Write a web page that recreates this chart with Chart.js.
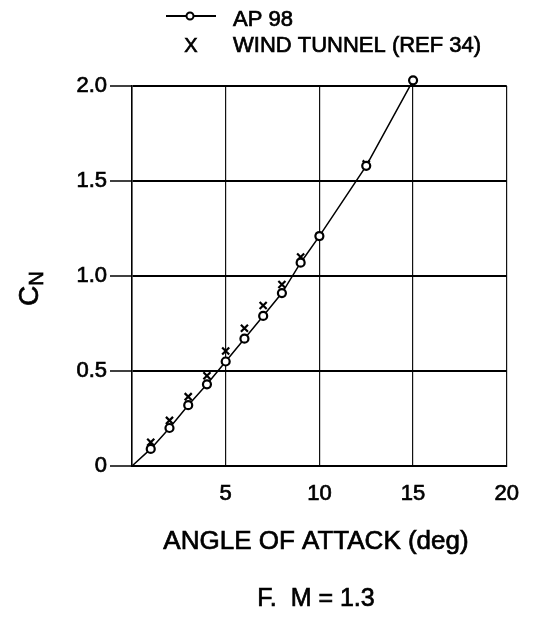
<!DOCTYPE html>
<html>
<head>
<meta charset="utf-8">
<script src="https://cdn.jsdelivr.net/npm/chart.js@4"></script>
<style>
  html, body { margin: 0; padding: 0; background: #fff; }
  #wrap { width: 534px; height: 617px; }
</style>
</head>
<body>
<div id="wrap"><canvas id="cn-chart" width="534" height="617"></canvas></div>
<script>
'use strict';

// angle of attack (deg) and normal force coefficient
const apAngles = [0, 1, 2, 3, 4, 5, 6, 7, 8, 9, 10, 12.5, 15];
const apCN = [0, 0.09, 0.20, 0.32, 0.43, 0.55, 0.67, 0.79, 0.91, 1.07, 1.21, 1.58, 2.03];
const tunnelAngles = [1, 2, 3, 4, 5, 6, 7, 8, 9, 10, 12.5, 15];
const tunnelCN = [0.125, 0.24, 0.365, 0.475, 0.605, 0.725, 0.845, 0.955, 1.10, 1.21, 1.59, 2.05];
const xTicks = [0, 5, 10, 15, 20];
const yTicks = [0, 0.5, 1.0, 1.5, 2.0];
const legendLabels = ['AP 98', 'WIND TUNNEL (REF 34)'];
const xTitle = 'ANGLE OF ATTACK (deg)';
const caseTitle = 'F.  M = 1.3';

const FONT = '"Liberation Sans", Arial, Helvetica, sans-serif';

const toPoints = (xs, ys) => xs.map((x, i) => ({ x: x, y: ys[i] }));

// text with a thin outline so it reads as heavy as the scanned original
function boldText(ctx, txt, x, y) {
    ctx.fillText(txt, x, y);
    ctx.strokeText(txt, x, y);
}

const textPlugin = {
    id: 'textPlugin',
    afterDraw(chart) {
        const ctx = chart.ctx;
        ctx.save();
        ctx.fillStyle = '#000';
        ctx.strokeStyle = '#000';

        // legend
        ctx.lineWidth = 2;
        ctx.beginPath();
        ctx.moveTo(166, 16);
        ctx.lineTo(216, 16);
        ctx.stroke();
        ctx.beginPath();
        ctx.arc(190, 16, 3.5, 0, Math.PI * 2);
        ctx.fillStyle = '#fff';
        ctx.fill();
        ctx.stroke();
        ctx.fillStyle = '#000';

        ctx.lineWidth = 0.7;
        ctx.font = '22px ' + FONT;
        ctx.textBaseline = 'middle';
        ctx.textAlign = 'left';
        boldText(ctx, legendLabels[0], 233, 20);
        boldText(ctx, legendLabels[1], 233, 46);
        ctx.textAlign = 'center';
        ctx.font = '20px ' + FONT;
        boldText(ctx, 'X', 191, 46);

        // axis titles
        ctx.font = '26px ' + FONT;
        boldText(ctx, xTitle, 316, 542);
        ctx.font = '25px ' + FONT;
        boldText(ctx, caseTitle, 316, 599);

        // C_N rotated
        ctx.translate(30, 296);
        ctx.rotate(-Math.PI / 2);
        ctx.textAlign = 'left';
        ctx.font = '28px ' + FONT;
        boldText(ctx, 'C', -10, 0);
        const w = ctx.measureText('C').width;
        ctx.font = '20px ' + FONT;
        boldText(ctx, 'N', -10 + w, 7);
        ctx.restore();
    }
};

const ctx = document.getElementById('cn-chart').getContext('2d');

new Chart(ctx, {
    type: 'scatter',
    data: {
        datasets: [{
            label: legendLabels[0],
            data: toPoints(apAngles, apCN),
            showLine: true,
            borderColor: '#000',
            borderWidth: 1.5,
            pointStyle: 'circle',
            pointRadius: apAngles.map(a => a === 0 ? 0 : 4),
            pointBorderWidth: 2.2,
            pointBorderColor: '#000',
            pointBackgroundColor: '#fff',
            clip: false
        }, {
            label: legendLabels[1],
            data: toPoints(tunnelAngles, tunnelCN),
            showLine: false,
            pointStyle: 'crossRot',
            pointRadius: 5,
            pointBorderWidth: 2.2,
            pointBorderColor: '#000',
            clip: false
        }]
    },
    options: {
        responsive: false,
        animation: false,
        events: [],
        layout: { padding: { top: 86, right: 27, bottom: 0, left: 0 } },
        plugins: {
            legend: { display: false },
            tooltip: { enabled: false }
        },
        scales: {
            x: {
                type: 'linear',
                min: 0,
                max: 20,
                afterBuildTicks: scale => { scale.ticks = xTicks.map(v => ({ value: v })); },
                afterFit: scale => { scale.height = 151; },
                grid: {
                    color: '#111',
                    lineWidth: 1.2,
                    drawTicks: false
                },
                border: { display: true, color: '#000', width: 2 },
                ticks: {
                    padding: 15,
                    color: '#000',
                    textStrokeColor: '#000',
                    textStrokeWidth: 0.7,
                    font: { family: FONT, size: 22 },
                    callback: v => v === 0 ? '' : String(v)
                }
            },
            y: {
                type: 'linear',
                min: 0,
                max: 2.0,
                afterBuildTicks: scale => { scale.ticks = yTicks.map(v => ({ value: v })); },
                afterFit: scale => { scale.width = 132; },
                grid: {
                    color: '#000',
                    lineWidth: 2,
                    tickLength: 22,
                    tickColor: '#000',
                    tickWidth: 1.5
                },
                border: { display: true, color: '#000', width: 1.5 },
                ticks: {
                    padding: 3,
                    color: '#000',
                    textStrokeColor: '#000',
                    textStrokeWidth: 0.7,
                    font: { family: FONT, size: 22 },
                    callback: v => v === 0 ? '0' : v.toFixed(1)
                }
            }
        }
    },
    plugins: [textPlugin]
});
</script>
</body>
</html>
